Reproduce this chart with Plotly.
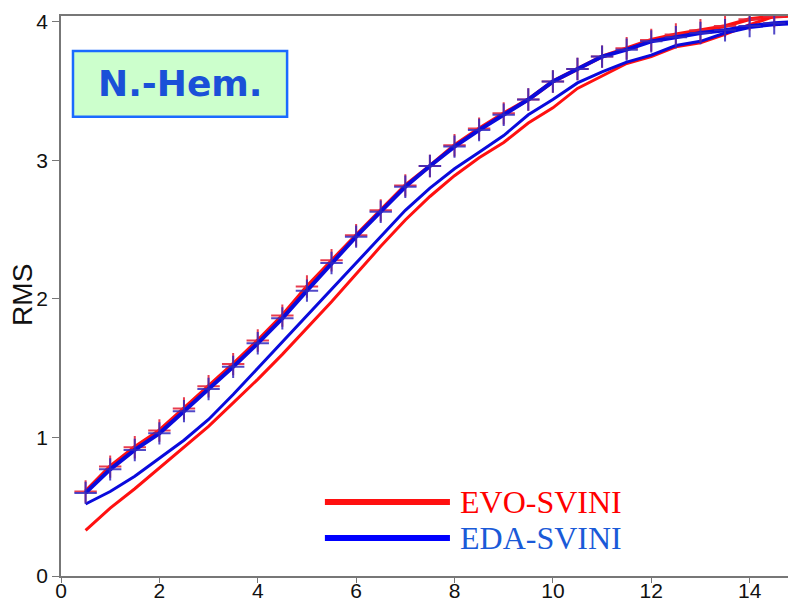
import plotly.graph_objects as go

# forecast step (x) values
steps = [0.5, 1.0, 1.5, 2.0, 2.5, 3.0, 3.5, 4.0, 4.5, 5.0, 5.5, 6.0, 6.5, 7.0, 7.5,
         8.0, 8.5, 9.0, 9.5, 10.0, 10.5, 11.0, 11.5, 12.0, 12.5, 13.0, 13.5, 14.0, 14.5, 15.0]

# curves with markers
evo_marked = [0.61, 0.79, 0.93, 1.05, 1.21, 1.37, 1.53, 1.70, 1.88, 2.09, 2.28, 2.46, 2.64, 2.82, 2.96,
              3.11, 3.23, 3.34, 3.44, 3.57, 3.66, 3.75, 3.81, 3.87, 3.91, 3.94, 3.97, 4.02, 4.04, 4.05]
eda_marked = [0.60, 0.77, 0.91, 1.03, 1.19, 1.35, 1.51, 1.68, 1.86, 2.06, 2.26, 2.45, 2.63, 2.81, 2.96,
              3.10, 3.22, 3.33, 3.44, 3.57, 3.66, 3.75, 3.80, 3.86, 3.89, 3.92, 3.94, 3.97, 3.99, 4.00]
# curves without markers
evo_plain = [0.33, 0.49, 0.63, 0.78, 0.93, 1.08, 1.25, 1.42, 1.60, 1.79, 1.98, 2.18, 2.38, 2.57, 2.74,
             2.89, 3.02, 3.13, 3.27, 3.38, 3.52, 3.61, 3.70, 3.75, 3.82, 3.85, 3.91, 3.98, 4.04, 4.05]
eda_plain = [0.52, 0.61, 0.72, 0.85, 0.98, 1.13, 1.31, 1.50, 1.69, 1.88, 2.07, 2.26, 2.45, 2.64, 2.80,
             2.94, 3.06, 3.18, 3.33, 3.44, 3.56, 3.64, 3.71, 3.76, 3.83, 3.86, 3.92, 3.96, 3.98, 3.99]

x_ticks = [0, 2, 4, 6, 8, 10, 12, 14]
y_ticks = [0, 1, 2, 3, 4]
series_names = ["EVO-SVINI", "EDA-SVINI"]
panel_label = "N.-Hem."
y_title = "RMS"

RED = "#ff1010"
BLUE = "#0a0adc"

fig = go.Figure()
fig.add_trace(go.Scatter(x=steps, y=evo_plain, mode="lines", line=dict(color=RED, width=3),
                         showlegend=False))
fig.add_trace(go.Scatter(x=steps, y=eda_plain, mode="lines", line=dict(color=BLUE, width=3),
                         showlegend=False))
fig.add_trace(go.Scatter(x=steps, y=evo_marked, mode="lines+markers",
                         line=dict(color=RED, width=4),
                         marker=dict(symbol="cross-thin", size=16,
                                     line=dict(color="rgba(230,40,60,0.9)", width=2)),
                         showlegend=False))
fig.add_trace(go.Scatter(x=steps, y=eda_marked, mode="lines+markers",
                         line=dict(color=BLUE, width=4),
                         marker=dict(symbol="cross-thin", size=16,
                                     line=dict(color="rgba(50,40,190,0.85)", width=2)),
                         showlegend=False))

# legend drawn as long line samples with serif labels
legend_rows = [(0.132, RED, "#ff0000"), (0.068, "#0000ff", "#1a5ad8")]
for (yy, lc, tc), name in zip(legend_rows, series_names):
    fig.add_shape(type="line", xref="paper", yref="paper", x0=0.363, x1=0.535, y0=yy, y1=yy,
                  line=dict(color=lc, width=6))
    fig.add_annotation(xref="paper", yref="paper", x=0.546, y=yy, xanchor="left", yanchor="middle",
                       text=name, showarrow=False,
                       font=dict(family="Liberation Serif", size=32, color=tc))

# panel label box
fig.add_shape(type="rect", xref="paper", yref="paper", x0=0.0165, x1=0.311, y0=0.820, y1=0.9375,
              fillcolor="#ccffcc", line=dict(color="#1a6aff", width=2.5))
fig.add_annotation(xref="paper", yref="paper", x=0.163, y=0.879, xanchor="center", yanchor="middle",
                   text="<b>" + panel_label + "</b>", showarrow=False,
                   font=dict(family="DejaVu Sans", size=36, color="#1a50d8"))

# y-axis title
fig.add_annotation(xref="paper", yref="paper", x=0, y=0.502, xshift=-38, xanchor="center",
                   yanchor="middle", text=y_title, textangle=-90, showarrow=False,
                   font=dict(family="Liberation Sans", size=28, color="#111111"))

fig.update_layout(
    width=788, height=602,
    margin=dict(l=61, r=0, t=16, b=26),
    paper_bgcolor="white", plot_bgcolor="white",
    font=dict(family="Liberation Sans", size=21, color="#111111"),
    xaxis=dict(range=[0, 14.78], tickvals=x_ticks, showgrid=False, zeroline=False,
               showline=True, linecolor="#777777", linewidth=1.5, mirror=True,
               ticks="outside", ticklen=5, tickcolor="#777777", tickwidth=1.2,
               tickfont=dict(size=21), automargin=False, ticklabelstandoff=-10),
    yaxis=dict(range=[0, 4.043], tickvals=y_ticks, showgrid=False, zeroline=False,
               showline=True, linecolor="#777777", linewidth=1.5,
               ticks="outside", ticklen=7, tickcolor="#777777", tickwidth=1.2,
               tickfont=dict(size=21), automargin=False),
)

fig.write_html("out.html", config={"displayModeBar": False},
               post_script="document.body.style.margin='0';document.body.style.overflow='hidden';")
